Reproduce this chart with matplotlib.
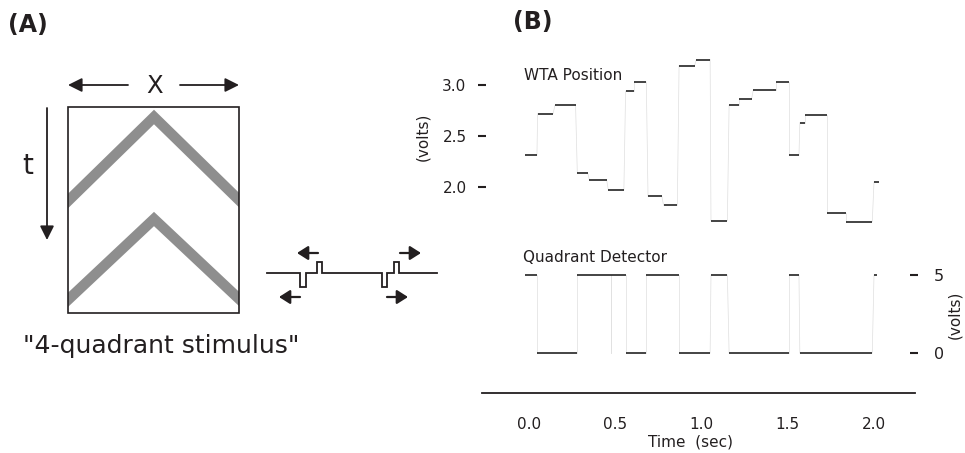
import matplotlib
matplotlib.use("Agg")
import matplotlib.pyplot as plt
from matplotlib.patches import Rectangle

plt.rcParams['font.family'] = ['DejaVu Sans']
INK = '#231f20'

# ---------------- data ----------------
# WTA position trace: flat segments (start s, end s, level volts)
wta_start = [-0.023, 0.05, 0.15, 0.28, 0.35, 0.46, 0.56, 0.61, 0.69, 0.78, 0.87, 0.97,
             1.055, 1.16, 1.22, 1.30, 1.43, 1.51, 1.57, 1.60, 1.73, 1.84, 2.00]
wta_end = [0.046, 0.14, 0.27, 0.34, 0.45, 0.55, 0.61, 0.68, 0.77, 0.86, 0.96, 1.05,
           1.15, 1.22, 1.29, 1.43, 1.51, 1.565, 1.60, 1.73, 1.84, 1.99, 2.03]
wta_value = [2.31, 2.72, 2.80, 2.14, 2.07, 1.97, 2.94, 3.03, 1.91, 1.82, 3.19, 3.25,
             1.67, 2.80, 2.86, 2.95, 3.03, 2.31, 2.63, 2.71, 1.75, 1.66, 2.05]

# Quadrant detector trace: segments (start, end, level volts)
quad_start = [-0.023, 0.046, 0.28, 0.473, 0.477, 0.56, 0.68, 0.87, 1.055, 1.16, 1.51, 1.57, 2.00]
quad_end = [0.046, 0.28, 0.473, 0.477, 0.56, 0.68, 0.87, 1.05, 1.15, 1.51, 1.565, 1.99, 2.015]
quad_value = [5, 0, 5, 0, 5, 0, 5, 0, 5, 0, 5, 0, 5]

time_ticks = [0.0, 0.5, 1.0, 1.5, 2.0]
time_labels = ['0.0', '0.5', '1.0', '1.5', '2.0']
wta_ticks = [2.0, 2.5, 3.0]
wta_labels = ['2.0', '2.5', '3.0']
quad_ticks = [0, 5]
quad_labels = ['0', '5']

# ---------------- figure ----------------
W, H = 965, 453
fig = plt.figure(figsize=(W / 100, H / 100), dpi=100)

def box(l, t, r, b):
    return [l / W, 1 - b / H, (r - l) / W, (b - t) / H]

PX0, PXS = 529.0, 172.5  # pixel of t=0, pixels per second
def tx(px):
    return (px - PX0) / PXS

# overlay in pixel coordinates for the schematic and free texts
ov = fig.add_axes([0, 0, 1, 1])
ov.set_xlim(0, W)
ov.set_ylim(H, 0)
ov.axis('off')

# panel labels
ov.text(28, 25, '(A)', fontsize=17, fontweight='bold', ha='center', va='center', color=INK)
ov.text(533, 22, '(B)', fontsize=17, fontweight='bold', ha='center', va='center', color=INK)

# stimulus box
rect = Rectangle((68, 107), 171, 206, fill=False, lw=1.2, ec=INK, zorder=3)
ov.add_patch(rect)
clip = Rectangle((68, 107), 171, 206, transform=ov.transData, fill=False, lw=0)
for apex_y, slope in [(117, 0.977), (219, 0.94)]:
    xs = [50, 154, 258]
    ys = [apex_y + 104 * slope, apex_y, apex_y + 104 * slope]
    ln, = ov.plot(xs, ys, color='#8e8e8e', lw=7.5, solid_joinstyle='miter',
                  solid_capstyle='butt', zorder=2)
    ln.set_clip_path(clip)

arrow_kw = dict(arrowstyle='-|>,head_length=0.6,head_width=0.3', color=INK, lw=1.3,
                shrinkA=0, shrinkB=0, mutation_scale=14)
ov.annotate('', xy=(68, 85), xytext=(128, 85), arrowprops=arrow_kw)
ov.annotate('', xy=(239, 85), xytext=(180, 85), arrowprops=arrow_kw)
ov.annotate('', xy=(47, 240), xytext=(47, 108), arrowprops=arrow_kw)
ov.text(155, 86, 'X', fontsize=17.5, ha='center', va='center', color=INK)
ov.text(28, 166, 't', fontsize=20, ha='center', va='center', color=INK)
ov.text(161, 346, '"4-quadrant stimulus"', fontsize=18, ha='center', va='center', color=INK)

# pulse schematic
px = [267, 300, 300, 306, 306, 317, 317, 322, 322, 382, 382, 387, 387, 394, 394, 399, 399, 437]
py = [273, 273, 287, 287, 273, 273, 262, 262, 273, 273, 287, 287, 273, 273, 262, 262, 273, 273]
ov.plot(px, py, color=INK, lw=1.3, solid_joinstyle='miter')
small_kw = dict(arrowstyle='-|>,head_length=0.55,head_width=0.35', color=INK, lw=1.6,
                shrinkA=0, shrinkB=0, mutation_scale=12)
ov.annotate('', xy=(297, 253), xytext=(318, 253), arrowprops=small_kw)
ov.annotate('', xy=(279, 297), xytext=(300, 297), arrowprops=small_kw)
ov.annotate('', xy=(421, 253), xytext=(400, 253), arrowprops=small_kw)
ov.annotate('', xy=(408, 297), xytext=(387, 297), arrowprops=small_kw)

# ---------------- panel B ----------------
def draw_steps(ax, starts, ends, vals):
    for i in range(len(starts) - 1):
        ax.plot([ends[i], starts[i + 1]], [vals[i], vals[i + 1]], color='#dedede', lw=0.5)
    ax.hlines(vals, starts, ends, color='#111111', lw=1.1)

# top: WTA position
a1 = fig.add_axes(box(486, 50, 915, 230))
a1.patch.set_alpha(0)
a1.set_xlim(tx(486), tx(915))
a1.set_ylim(3.0 - 145 / 102, 3.0 + 35 / 102)
draw_steps(a1, wta_start, wta_end, wta_value)
for s in ['top', 'right', 'bottom', 'left']:
    a1.spines[s].set_visible(False)
a1.set_xticks([])
a1.set_yticks(wta_ticks)
a1.set_yticklabels(wta_labels)
a1.tick_params(axis='y', direction='out', length=6, width=1.5, pad=8, labelsize=11,
               color=INK, labelcolor=INK)
a1.text(tx(524), 3.0 + 10 / 102, 'WTA Position', fontsize=11, ha='left', va='center', color=INK)

# bottom: quadrant detector
a2 = fig.add_axes(box(486, 240, 910, 370))
a2.patch.set_alpha(0)
a2.set_xlim(tx(486), tx(910))
a2.set_ylim(-17 / 15.6, 5 + 35 / 15.6)
draw_steps(a2, quad_start, quad_end, quad_value)
for s in ['top', 'right', 'bottom', 'left']:
    a2.spines[s].set_visible(False)
a2.set_xticks([])
a2.yaxis.tick_right()
a2.set_yticks(quad_ticks)
a2.set_yticklabels(quad_labels)
a2.tick_params(axis='y', direction='out', length=6, width=1.5, pad=11, labelsize=11.5,
               color=INK, labelcolor=INK)
a2.text(tx(523), 5 + 18 / 15.6, 'Quadrant Detector', fontsize=11, ha='left', va='center', color=INK)

# time axis
a3 = fig.add_axes(box(482, 385, 915, 393))
a3.patch.set_alpha(0)
a3.set_xlim(tx(482), tx(915))
a3.set_yticks([])
for s in ['top', 'right', 'left']:
    a3.spines[s].set_visible(False)
a3.spines['bottom'].set_linewidth(1.3)
a3.spines['bottom'].set_color(INK)
a3.set_xticks(time_ticks)
a3.set_xticklabels(time_labels)
a3.tick_params(axis='x', length=0, pad=17, labelsize=11, labelcolor=INK)

ov.text(423, 137, '(volts)', fontsize=11, rotation=90, ha='center', va='center', color=INK)
ov.text(955, 315, '(volts)', fontsize=11, rotation=90, ha='center', va='center', color=INK)
ov.text(691, 442, 'Time  (sec)', fontsize=11, ha='center', va='center', color=INK)

fig.savefig('out.png', dpi=100)
